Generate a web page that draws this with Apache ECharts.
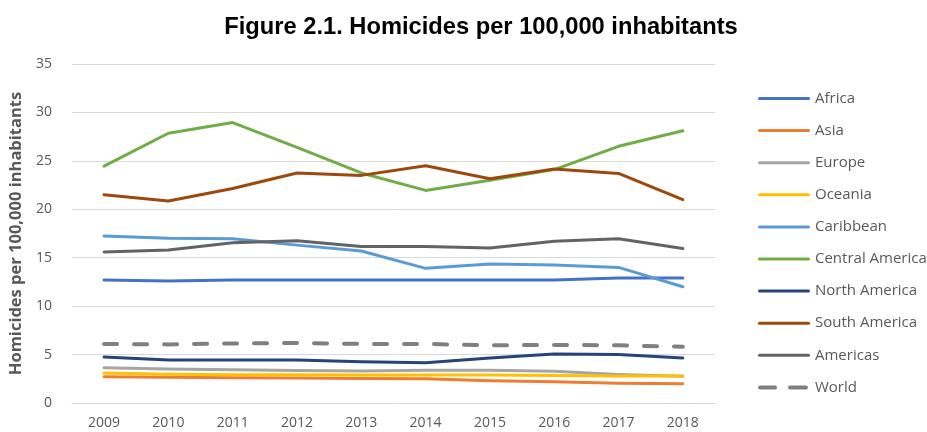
<!DOCTYPE html>
<html>
<head>
<meta charset="utf-8">
<script src="https://cdn.jsdelivr.net/npm/echarts@6/dist/echarts.min.js"></script>
<style>
  html, body { margin: 0; padding: 0; background: #fff; }
  #chart { width: 927px; height: 432px; }
</style>
</head>
<body>
<div id="chart"></div>
<script>
// Years on the horizontal axis
const years = ['2009', '2010', '2011', '2012', '2013', '2014', '2015', '2016', '2017', '2018'];

// Homicide rates per 100,000 inhabitants, by region
const africa         = [12.7, 12.6, 12.7, 12.7, 12.7, 12.7, 12.7, 12.7, 12.9, 12.9];
const asia           = [2.7, 2.65, 2.6, 2.57, 2.54, 2.5, 2.3, 2.2, 2.05, 2.0];
const europe         = [3.65, 3.5, 3.42, 3.35, 3.3, 3.38, 3.38, 3.28, 2.95, 2.75];
const oceania        = [3.1, 2.96, 2.92, 2.92, 2.89, 2.89, 2.89, 2.85, 2.78, 2.78];
const caribbean      = [17.25, 17.0, 16.95, 16.3, 15.7, 13.9, 14.35, 14.25, 14.0, 12.0];
const centralAmerica = [24.45, 27.85, 28.95, 26.4, 23.75, 21.95, 23.0, 24.1, 26.5, 28.1];
const northAmerica   = [4.75, 4.45, 4.45, 4.45, 4.25, 4.15, 4.65, 5.05, 5.0, 4.65];
const southAmerica   = [21.5, 20.85, 22.15, 23.75, 23.5, 24.5, 23.15, 24.15, 23.7, 21.0];
const americas       = [15.6, 15.8, 16.55, 16.75, 16.15, 16.15, 16.0, 16.7, 16.95, 15.95];
const world          = [6.1, 6.05, 6.15, 6.2, 6.1, 6.1, 5.95, 6.0, 5.95, 5.8];

// Y axis ticks
const yMin = 0, yMax = 35, yStep = 5;

const seriesDefs = [
  { name: 'Africa', data: africa, color: '#4472C4' },
  { name: 'Asia', data: asia, color: '#ED7D31' },
  { name: 'Europe', data: europe, color: '#A5A5A5' },
  { name: 'Oceania', data: oceania, color: '#FFC000' },
  { name: 'Caribbean', data: caribbean, color: '#5B9BD5' },
  { name: 'Central America', data: centralAmerica, color: '#70AD47' },
  { name: 'North America', data: northAmerica, color: '#264478' },
  { name: 'South America', data: southAmerica, color: '#9E480E' },
  { name: 'Americas', data: americas, color: '#636363' },
  { name: 'World', data: world, color: '#7F7F7F', dashed: true }
];

// Legend keys: a plain stroke, or two short dashes for the dashed series
const solidKey = 'path://M1.5,0 H50.5 A1.5,1.5 0 0 1 50.5,3 H1.5 A1.5,1.5 0 0 1 1.5,0 Z';
const dashedKey = 'path://M2,0 H17 A2,2 0 0 1 17,4 H2 A2,2 0 0 1 2,0 Z M32,0 H48 A2,2 0 0 1 48,4 H32 A2,2 0 0 1 32,0 Z M51.9,1.9 H52 V2.1 H51.9 Z';

const chart = echarts.init(document.getElementById('chart'), null, { renderer: 'canvas' });

const textColor = '#595959';
const font = 'Open Sans, Noto Sans, sans-serif';

chart.setOption({
  animation: false,
  backgroundColor: '#ffffff',
  title: {
    text: 'Figure 2.1. Homicides per 100,000 inhabitants',
    left: 476,
    textAlign: 'center',
    top: 10,
    textStyle: {
      fontFamily: 'Liberation Sans, Arial, sans-serif',
      fontWeight: 'bold',
      fontSize: 23.7,
      color: '#000000'
    }
  },
  grid: { left: 69, right: 212, top: 64, bottom: 29, containLabel: false },
  legend: {
    orient: 'vertical',
    left: 753,
    top: 86,
    itemWidth: 52,
    itemHeight: 14,
    itemGap: 17.1,
    textStyle: { color: textColor, fontSize: 15, fontFamily: font },
    data: seriesDefs.map(s => ({ name: s.name, icon: s.dashed ? dashedKey : solidKey }))
  },
  xAxis: {
    type: 'category',
    data: years,
    boundaryGap: true,
    axisLine: { show: true, lineStyle: { color: '#D9D9D9', width: 1 } },
    axisTick: { show: false },
    axisLabel: { color: textColor, fontSize: 14, fontFamily: font, margin: 13 }
  },
  yAxis: {
    type: 'value',
    min: yMin,
    max: yMax,
    interval: yStep,
    name: 'Homicides per 100,000 inhabitants',
    nameLocation: 'middle',
    nameRotate: 90,
    nameGap: 46,
    nameTextStyle: { color: textColor, fontSize: 16.5, fontWeight: 'bold', fontFamily: font },
    axisLine: { show: false },
    axisTick: { show: false },
    splitLine: { lineStyle: { color: '#D9D9D9', width: 1 } },
    axisLabel: { color: textColor, fontSize: 14, fontFamily: font, margin: 20 }
  },
  series: seriesDefs.map(s => ({
    name: s.name,
    type: 'line',
    data: s.data,
    symbol: 'none',
    color: s.color,
    lineStyle: {
      color: s.color,
      width: s.dashed ? 4 : 3,
      type: s.dashed ? [13, 17] : 'solid',
      cap: 'round',
      join: 'round'
    },
    z: s.dashed ? 1 : 2
  }))
});
</script>
</body>
</html>
